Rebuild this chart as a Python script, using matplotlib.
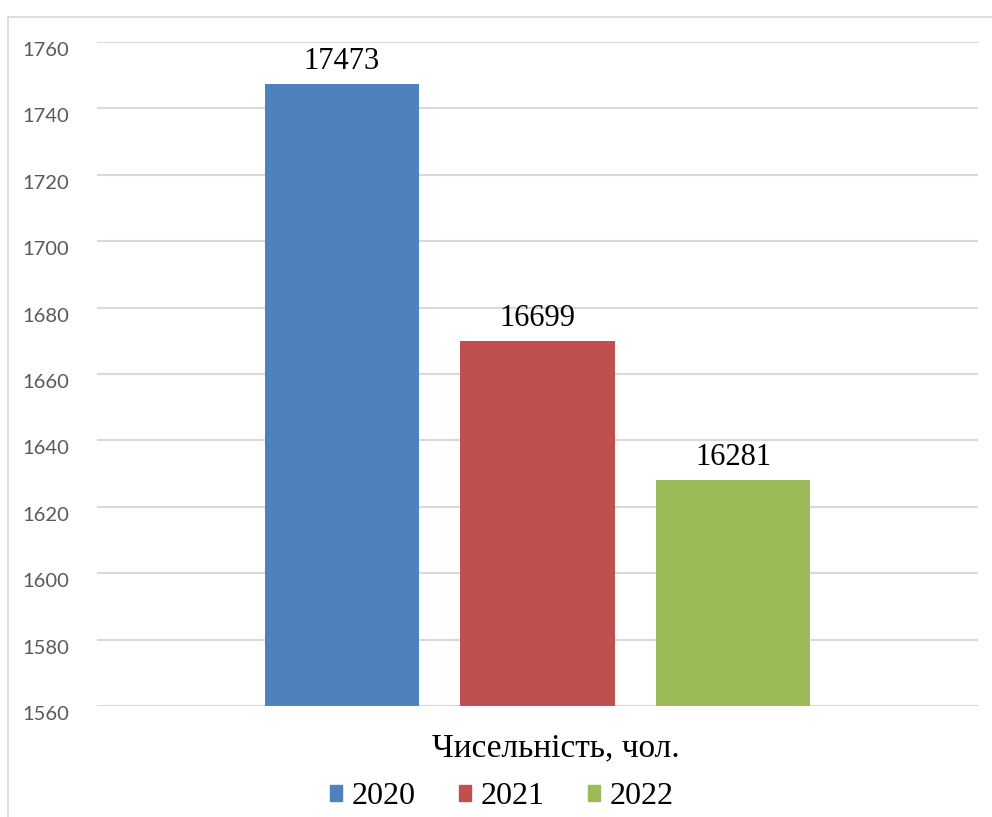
import matplotlib.pyplot as plt
from matplotlib.patches import Rectangle, Patch

years = ['2020', '2021', '2022']
values = [1747.3, 1669.9, 1628.1]
labels = ['17473', '16699', '16281']
colors = ['#4f81bd', '#c0504d', '#9bbb59']
yticks = [1560, 1580, 1600, 1620, 1640, 1660, 1680, 1700, 1720, 1740, 1760]

fig = plt.figure(figsize=(9.92, 8.17), dpi=100)
ax = fig.add_axes([97/992, 111/817, 881/992, 664/817])

# outer frame of the chart
fig.patches.append(Rectangle((8/992, -0.01), 1.0, 1 - 17/817 + 0.01, transform=fig.transFigure,
                             fill=False, edgecolor='#d9d9d9', lw=1.2))

pos = [-1, 0, 1]
ax.bar(pos, [v - 1560 for v in values], bottom=1560, width=0.79, color=colors, zorder=3)
for x, v, t in zip(pos, values, labels):
    ax.annotate(t, (x, v), xytext=(0, 6), textcoords='offset points', ha='center', va='bottom',
                fontsize=22, family='Liberation Serif')

ax.set_xlim(-2.253, 2.253)
ax.set_ylim(1560, 1760)
ax.set_yticks(yticks)
ax.set_xticks([])
ax.grid(axis='y', color='#d9d9d9', lw=1.5, zorder=0)
for s in ax.spines.values():
    s.set_visible(False)
ax.tick_params(axis='y', length=0, pad=20, labelsize=14.5, labelcolor='#595959')
for lb in ax.get_yticklabels():
    lb.set_family('Lato')
    lb.set_va('top')

fig.text(556/992, 1 - 748/817, 'Чисельність, чол.', ha='center', va='center',
         fontsize=24, family='Liberation Serif')

handles = [Patch(color=c) for c in colors]
fig.legend(handles, years, loc='center', bbox_to_anchor=(502/992, 1 - 797/817), ncol=3, frameon=False,
           prop={'family': 'Liberation Serif', 'size': 23}, handlelength=0.38, handleheight=0.38,
           handletextpad=0.3, columnspacing=1.35)

fig.savefig('out.png', dpi=100)
